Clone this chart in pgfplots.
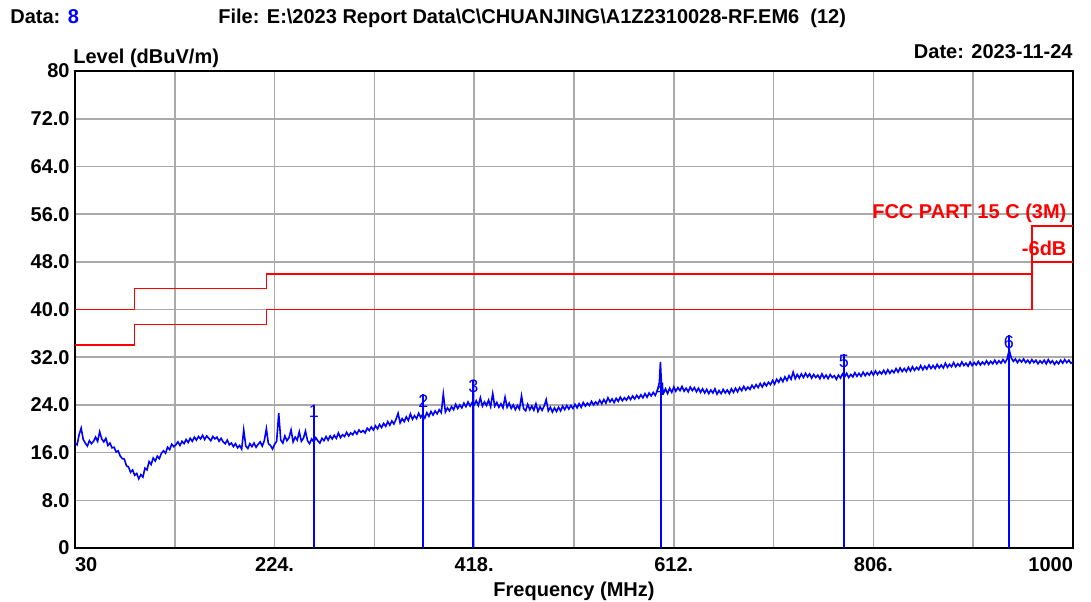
\documentclass[border=0pt]{standalone}
\usepackage{fontspec}
\setmainfont{Liberation Sans}
\usepackage{pgfplots}
\pgfplotsset{compat=1.18}
\definecolor{gridgray}{RGB}{170,170,170}
\definecolor{trblue}{RGB}{0,0,255}
\definecolor{limred}{RGB}{255,0,0}
\newcommand{\lbl}{\fontsize{10}{12}\selectfont\bfseries}
\begin{document}
\begin{tikzpicture}
\path[use as bounding box] (0,0) rectangle (545.5pt,300.5pt);
\begin{axis}[
  at={(37.5pt,26.5pt)}, anchor=south west, scale only axis,
  width=499pt, height=238.5pt,
  xmin=30, xmax=1000, ymin=0, ymax=80,
  xtick={30,127,224,321,418,515,612,709,806,903,1000},
  xticklabels={\makebox[0pt][l]{30},,224.,,418.,,612.,,806.,,\makebox[0pt][r]{1000}},
  ytick={0,8,16,24,32,40,48,56,64,72,80},
  yticklabels={0,8.0,16.0,24.0,32.0,40.0,48.0,56.0,64.0,72.0,80},
  grid=major, major grid style={gridgray, line width=0.8pt},
  axis line style={black, line width=1pt},
  major tick length=0pt,
  tick label style={font=\lbl},
  xticklabel style={anchor=north, inner sep=0pt, yshift=-4.5pt},
  yticklabel style={anchor=east, inner sep=0pt, xshift=-2.5pt},
]
% limit lines
\addplot[limred, line width=0.8pt] coordinates {(30,40) (88,40) (88,43.5) (216,43.5) (216,46) (960,46) (960,54) (1000,54)};
\addplot[limred, line width=0.8pt] coordinates {(30,34) (88,34) (88,37.5) (216,37.5) (216,40) (960,40) (960,48) (1000,48)};
% trace
\addplot[trblue, line width=0.8pt] coordinates {
(30,17.6) (32,17.3) (34,19.0) (36,20.1) (38,18.2) (40,17.6) (42,17.1) (44,18.0) (46,17.5) (48,17.9)
(50,18.6) (52,17.9) (54,19.5) (56,18.3) (58,17.8) (60,18.4) (62,17.2) (64,17.6) (66,16.8) (68,16.9)
(70,16.1) (72,16.3) (74,15.4) (76,15.0) (78,14.9) (80,13.8) (82,13.6) (84,12.7) (86,13.1) (88,12.2)
(90,12.5) (92,11.6) (94,12.3) (96,11.9) (98,13.4) (100,13.1) (102,14.5) (104,14.0) (106,15.1) (108,14.6)
(110,15.4) (112,15.0) (114,15.9) (116,16.3) (118,15.9) (120,16.9) (122,16.5) (124,17.4) (126,17.0) (128,17.3)
(130,17.8) (132,17.2) (134,17.9) (136,17.5) (138,18.2) (140,17.7) (142,18.4) (144,17.9) (146,18.6) (148,18.1)
(150,18.7) (152,18.3) (154,18.9) (156,18.2) (158,18.8) (160,18.4) (162,18.0) (164,18.7) (166,18.3) (168,18.6)
(170,17.9) (172,18.4) (174,17.8) (176,17.5) (178,18.1) (180,17.3) (182,17.6) (184,17.0) (186,17.5) (188,16.8)
(190,17.2) (192,16.6) (194,19.8) (196,17.1) (198,16.7) (200,17.5) (202,17.0) (204,17.6) (206,16.9) (208,17.4)
(210,17.8) (212,17.1) (214,18.0) (216,20.0) (218,17.5) (220,17.2) (222,16.6) (224,17.4) (226,17.9) (228,22.6)
(230,18.1) (232,17.6) (234,18.8) (236,18.0) (238,18.5) (240,19.8) (242,17.8) (244,18.6) (246,18.1) (248,19.5)
(250,17.9) (252,18.4) (254,19.6) (256,18.0) (258,17.5) (260,18.3) (262,17.8) (264,18.5) (266,18.0) (268,17.6)
(270,18.4) (272,18.0) (274,18.7) (276,18.1) (278,18.8) (280,18.3) (282,18.9) (284,18.4) (286,19.3) (288,18.5)
(290,19.0) (292,18.7) (294,19.4) (296,18.8) (298,19.3) (300,19.0) (302,19.6) (304,19.1) (306,19.8) (308,19.4)
(310,19.7) (312,19.3) (314,20.1) (316,19.7) (318,20.3) (320,19.8) (322,20.5) (324,20.0) (326,20.7) (328,20.2)
(330,20.9) (332,20.4) (334,21.2) (336,20.6) (338,21.3) (340,20.8) (342,21.6) (344,22.6) (346,21.0) (348,21.7)
(350,21.2) (352,22.0) (354,21.4) (356,22.5) (358,21.6) (360,22.2) (362,21.7) (364,22.6) (366,21.9) (368,22.4)
(370,21.8) (372,22.7) (374,22.1) (376,22.9) (378,22.3) (380,23.0) (382,22.5) (384,23.2) (386,22.7) (388,25.8)
(390,22.8) (392,23.5) (394,23.0) (396,23.7) (398,23.2) (400,24.1) (402,23.4) (404,24.0) (406,23.5) (408,24.3)
(410,23.7) (412,24.5) (414,23.8) (416,24.4) (418,24.0) (420,24.7) (422,23.9) (424,25.2) (426,23.8) (428,24.5)
(430,23.9) (432,24.8) (434,23.7) (436,25.9) (438,23.8) (440,24.4) (442,23.6) (444,24.2) (446,23.5) (448,25.3)
(450,23.6) (452,24.3) (454,23.4) (456,24.0) (458,23.2) (460,23.9) (462,23.3) (464,25.5) (466,23.4) (468,23.0)
(470,24.1) (472,23.2) (474,23.8) (476,23.1) (478,24.2) (480,22.9) (482,23.7) (484,23.1) (486,23.8) (488,24.9)
(490,23.0) (492,23.6) (494,22.8) (496,23.5) (498,22.9) (500,23.6) (502,23.0) (504,23.8) (506,23.2) (508,23.9)
(510,23.3) (512,23.9) (514,23.4) (516,24.1) (518,23.5) (520,24.2) (522,23.6) (524,24.4) (526,23.8) (528,24.3)
(530,23.9) (532,24.6) (534,24.0) (536,24.5) (538,24.1) (540,24.8) (542,24.2) (544,24.9) (546,24.3) (548,25.2)
(550,24.5) (552,25.0) (554,24.4) (556,25.1) (558,24.6) (560,25.3) (562,24.7) (564,25.2) (566,24.8) (568,25.4)
(570,24.9) (572,25.5) (574,25.0) (576,25.6) (578,25.1) (580,25.7) (582,25.2) (584,25.9) (586,25.3) (588,26.0)
(590,25.5) (592,26.1) (594,25.6) (596,26.4) (598,27.8) (599,31.2) (600,27.5) (602,26.0) (604,26.7) (606,25.9)
(608,26.8) (610,26.1) (612,27.0) (614,26.3) (616,26.9) (618,26.4) (620,27.1) (622,26.3) (624,26.8) (626,26.2)
(628,27.0) (630,26.4) (632,26.9) (634,26.2) (636,26.8) (638,26.1) (640,26.7) (642,26.0) (644,26.6) (646,25.9)
(648,26.5) (650,26.0) (652,26.7) (654,25.8) (656,26.4) (658,25.9) (660,26.6) (662,26.0) (664,26.5) (666,25.9)
(668,26.7) (670,26.1) (672,26.8) (674,26.2) (676,26.9) (678,26.4) (680,27.1) (682,26.5) (684,27.0) (686,26.6)
(688,27.3) (690,26.8) (692,27.4) (694,26.9) (696,27.6) (698,27.0) (700,27.7) (702,27.2) (704,27.8) (706,27.4)
(708,28.1) (710,27.5) (712,28.3) (714,27.8) (716,28.5) (718,27.9) (720,28.7) (722,28.1) (724,28.9) (726,28.3)
(728,29.5) (730,28.4) (732,29.1) (734,28.5) (736,29.2) (738,28.6) (740,29.3) (742,28.7) (744,29.2) (746,28.5)
(748,29.1) (750,28.6) (752,29.0) (754,28.4) (756,29.2) (758,28.5) (760,29.0) (762,28.4) (764,29.1) (766,28.6)
(768,28.9) (770,28.3) (772,29.0) (774,28.5) (776,29.2) (778,28.7) (780,29.3) (782,28.6) (784,29.1) (786,28.7)
(788,29.4) (790,28.8) (792,29.3) (794,28.8) (796,29.5) (798,28.9) (800,29.4) (802,29.0) (804,29.6) (806,29.0)
(808,29.7) (810,29.1) (812,29.6) (814,29.2) (816,29.8) (818,29.2) (820,29.9) (822,29.3) (824,29.8) (826,29.4)
(828,30.1) (830,29.5) (832,30.2) (834,29.6) (836,30.1) (838,29.6) (840,30.3) (842,29.7) (844,30.4) (846,29.8)
(848,30.3) (850,29.9) (852,30.6) (854,29.9) (856,30.5) (858,30.0) (860,30.7) (862,30.1) (864,30.6) (866,30.1)
(868,30.8) (870,30.2) (872,30.7) (874,30.2) (876,31.0) (878,30.3) (880,30.8) (882,30.4) (884,31.1) (886,30.4)
(888,30.9) (890,30.5) (892,31.2) (894,30.6) (896,31.0) (898,30.5) (900,31.2) (902,30.6) (904,31.1) (906,30.7)
(908,31.3) (910,30.7) (912,31.2) (914,30.8) (916,31.4) (918,30.8) (920,31.3) (922,30.9) (924,31.5) (926,30.9)
(928,31.4) (930,31.0) (932,31.6) (934,31.1) (936,31.7) (938,33.2) (940,31.9) (942,31.3) (944,31.7) (946,31.1)
(948,31.6) (950,31.2) (952,31.7) (954,31.1) (956,31.5) (958,31.0) (960,31.6) (962,31.1) (964,31.5) (966,30.9)
(968,31.4) (970,31.0) (972,31.5) (974,30.9) (976,31.6) (978,31.0) (980,31.4) (982,30.8) (984,31.3) (986,30.9)
(988,31.5) (990,31.0) (992,31.6) (994,31.1) (996,31.5) (998,31.0) (1000,31.2)
};
% markers
\addplot[trblue, line width=0.9pt, ycomb] coordinates {(262.3,24.0) (368.5,25.8) (417.1,28.2) (599.2,27.8) (777.4,32.5) (937.8,35.7)};
\node[trblue, anchor=north, inner sep=0pt, font=\fontsize{9}{10}\selectfont] at (axis cs:262.3,24.0) {1};
\node[trblue, anchor=north, inner sep=0pt, font=\fontsize{9}{10}\selectfont] at (axis cs:368.5,25.8) {2};
\node[trblue, anchor=north, inner sep=0pt, font=\fontsize{9}{10}\selectfont] at (axis cs:417.1,28.2) {3};
\node[trblue, anchor=north, inner sep=0pt, font=\fontsize{9}{10}\selectfont] at (axis cs:599.2,27.8) {4};
\node[trblue, anchor=north, inner sep=0pt, font=\fontsize{9}{10}\selectfont] at (axis cs:777.4,32.5) {5};
\node[trblue, anchor=north, inner sep=0pt, font=\fontsize{9}{10}\selectfont] at (axis cs:937.8,35.7) {6};
% limit labels
\node[limred, anchor=base east, inner sep=0pt, font=\lbl] at (axis cs:994,55.2) {FCC PART 15 C (3M)};
\node[limred, anchor=base east, inner sep=0pt, font=\lbl] at (axis cs:994,49.0) {-6dB};
\end{axis}
\node[anchor=base west, inner sep=0pt, font=\lbl] at (5pt,288.5pt) {Data: \textcolor{trblue}{8}};
\node[anchor=base west, inner sep=0pt, font=\lbl] at (109pt,288.5pt) {File: E:\textbackslash 2023 Report Data\textbackslash C\textbackslash CHUANJING\textbackslash A1Z2310028-RF.EM6\ \ (12)};
\node[anchor=base west, inner sep=0pt, font=\lbl] at (36.5pt,268.5pt) {Level (dBuV/m)};
\node[anchor=base east, inner sep=0pt, font=\lbl] at (536.5pt,271pt) {Date: 2023-11-24};
\node[anchor=base, inner sep=0pt, font=\lbl] at (287pt,2.5pt) {Frequency (MHz)};
\end{tikzpicture}
\end{document}
